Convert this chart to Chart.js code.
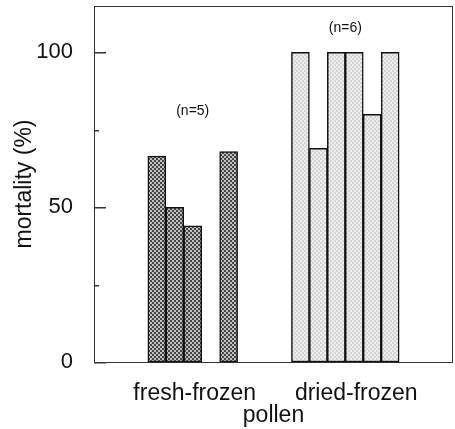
<!DOCTYPE html>
<html>
<head>
<meta charset="utf-8">
<script src="https://cdn.jsdelivr.net/npm/chart.js@4"></script>
<style>
  html, body { margin: 0; padding: 0; background: #fff; }
</style>
</head>
<body>
<canvas id="mortalityChart" width="455" height="429"></canvas>
<script>
// mortality of individual samples
const groupNames = ['fresh-frozen', 'dried-frozen'];
const freshFrozen = [66.5, 50, 44, 0, 68];
const driedFrozen = [100, 69, 100, 100, 80, 100];
const sampleSizes = ['(n=5)', '(n=6)'];
const sampleSizeLevels = [81, 108];
const majorTicks = [0, 50, 100];
const minorTicks = [25, 75];

// slot layout on the category axis
const slotCount = 20;
const freshStart = 3;
const driedStart = 11;
const labelSlots = [5, 14];

const slots = [];
for (let i = 0; i < slotCount; i++) slots.push(i);

const freshData = slots.map(i => (i >= freshStart && i < freshStart + freshFrozen.length) ? freshFrozen[i - freshStart] : null);
const driedData = slots.map(i => (i >= driedStart && i < driedStart + driedFrozen.length) ? driedFrozen[i - driedStart] : null);

function makePattern(a, b) {
    const c = document.createElement('canvas');
    c.width = 4;
    c.height = 4;
    const g = c.getContext('2d');
    g.fillStyle = a;
    g.fillRect(0, 0, 4, 4);
    g.fillStyle = b;
    g.fillRect(0, 0, 2, 2);
    g.fillRect(2, 2, 2, 2);
    return g.createPattern(c, 'repeat');
}

const darkFill = makePattern('#454545', '#c0c0c0');
const lightFill = makePattern('#d6d6d6', '#ececec');

const FONT = "'Liberation Sans', Arial, Helvetica, sans-serif";

// frame, inward tick marks and (n=...) notes
const decorations = {
    id: 'decorations',
    afterDraw(chart) {
        const { ctx, chartArea, scales } = chart;
        const y = scales.y, x = scales.x;
        const left = chartArea.left;
        ctx.save();
        ctx.strokeStyle = '#333';
        ctx.lineWidth = 1;
        ctx.strokeRect(left + 0.5, chartArea.top + 0.5,
            chartArea.right - left - 1, chartArea.bottom - chartArea.top);
        ctx.fillStyle = '#333';
        majorTicks.forEach(v => ctx.fillRect(left, Math.round(y.getPixelForValue(v)), 12, 1.5));
        minorTicks.forEach(v => ctx.fillRect(left, Math.round(y.getPixelForValue(v)), 5, 1.5));

        ctx.fillStyle = '#111';
        ctx.font = '14px ' + FONT;
        ctx.textAlign = 'center';
        ctx.textBaseline = 'middle';
        const centers = [
            (x.getPixelForValue(freshStart) + x.getPixelForValue(freshStart + freshFrozen.length - 1)) / 2,
            (x.getPixelForValue(driedStart) + x.getPixelForValue(driedStart + driedFrozen.length - 1)) / 2
        ];
        sampleSizes.forEach((s, i) => {
            ctx.fillText(s, centers[i], y.getPixelForValue(sampleSizeLevels[i]));
        });
        ctx.restore();
    }
};

new Chart(document.getElementById('mortalityChart'), {
    type: 'bar',
    data: {
        labels: slots,
        datasets: [{
            label: groupNames[0],
            data: freshData,
            backgroundColor: darkFill,
            borderColor: '#111',
            borderWidth: 1.5,
            borderSkipped: false,
            grouped: false,
            barPercentage: 1,
            categoryPercentage: 1
        }, {
            label: groupNames[1],
            data: driedData,
            backgroundColor: lightFill,
            borderColor: '#111',
            borderWidth: 1.5,
            borderSkipped: false,
            grouped: false,
            barPercentage: 1,
            categoryPercentage: 1
        }]
    },
    options: {
        responsive: false,
        animation: false,
        layout: { padding: { top: 6, right: 2, left: 0, bottom: 0 } },
        plugins: {
            legend: { display: false },
            tooltip: { enabled: false }
        },
        scales: {
            x: {
                grid: { display: false },
                border: { display: false },
                ticks: {
                    autoSkip: false,
                    maxRotation: 0,
                    padding: 10,
                    labelOffset: 2,
                    color: '#111',
                    font: { family: FONT, size: 23 },
                    callback: (v, i) => {
                        const k = labelSlots.indexOf(i);
                        return k >= 0 ? groupNames[k] : '';
                    }
                },
                title: {
                    display: true,
                    text: 'pollen',
                    color: '#111',
                    font: { family: FONT, size: 23 },
                    padding: { top: 0, bottom: 0 }
                },
                afterFit: s => {
                    s.height = 67;
                    s.paddingLeft = 0;
                    s.paddingRight = 0;
                }
            },
            y: {
                min: 0,
                max: 115,
                grid: { display: false },
                border: { display: false },
                afterBuildTicks: s => { s.ticks = majorTicks.map(v => ({ value: v })); },
                ticks: {
                    padding: 13,
                    color: '#111',
                    font: { family: FONT, size: 22 }
                },
                title: {
                    display: true,
                    text: 'mortality (%)',
                    color: '#111',
                    font: { family: FONT, size: 23 },
                    padding: { top: 11, bottom: 0 }
                },
                afterFit: s => {
                    s.width = 94;
                    s.paddingTop = 0;
                    s.paddingBottom = 0;
                }
            }
        }
    },
    plugins: [decorations]
});
</script>
</body>
</html>
